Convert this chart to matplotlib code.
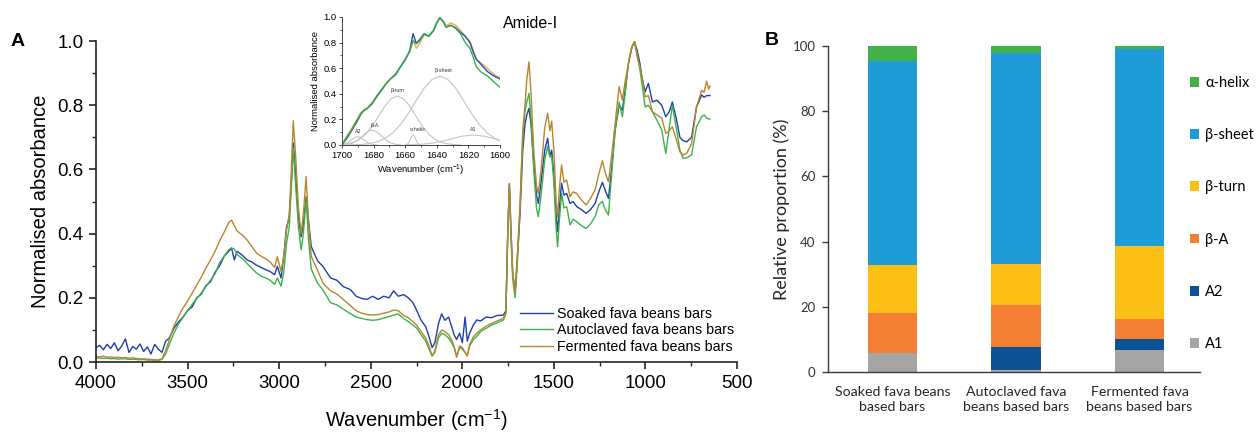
import matplotlib as mpl
import matplotlib.pyplot as plt
import numpy as np

mpl.rcParams["font.family"] = ["Liberation Sans", "DejaVu Sans"]
mpl.rcParams["mathtext.fontset"] = "custom"
mpl.rcParams["mathtext.rm"] = "Liberation Sans"
mpl.rcParams["mathtext.it"] = "Liberation Sans:italic"

# ---------------------------------------------------------------- panel A data
wavenumber = [
    4000, 3980, 3960, 3940, 3920, 3900, 3880, 3860, 3840, 3820, 3800, 3780,
    3760, 3740, 3720, 3700, 3680, 3660,
    3640, 3620, 3600, 3575, 3550, 3525, 3500, 3475, 3450, 3425, 3400, 3375,
    3350, 3325, 3300, 3275, 3260, 3245, 3230, 3200, 3175, 3150, 3125, 3100,
    3075, 3050, 3025, 3010, 2990, 2975, 2960, 2945, 2935, 2923, 2910, 2895,
    2880, 2868, 2853, 2840, 2825, 2810, 2790, 2760, 2720, 2686, 2650, 2610,
    2580, 2550, 2520, 2490, 2460, 2430, 2400, 2375, 2350, 2320, 2295, 2270,
    2250, 2225, 2200, 2185, 2165, 2150, 2130, 2113, 2095, 2075, 2058, 2045,
    2031, 2015, 2000, 1985, 1973, 1960, 1940, 1921, 1900, 1870, 1840, 1810,
    1776, 1762, 1752, 1743, 1735, 1725, 1712, 1700, 1685, 1670, 1658, 1648,
    1636, 1625, 1610, 1595, 1585, 1570, 1550, 1534, 1522, 1512, 1500, 1488,
    1480, 1470, 1458, 1445, 1430, 1412, 1395, 1375, 1350, 1324, 1300, 1275,
    1255, 1235, 1220, 1202, 1185, 1166, 1144, 1126, 1112, 1093, 1075, 1060,
    1045, 1030, 1020, 1002, 984, 962, 938, 911, 889, 870, 853, 830,
    812, 795, 775, 748, 721, 693, 680, 666, 655, 648,
]

soaked = [
    0.045, 0.052, 0.038, 0.055, 0.042, 0.060, 0.035, 0.050, 0.072, 0.030,
    0.048, 0.040, 0.056, 0.033, 0.047, 0.025, 0.055, 0.040,
    0.030, 0.065, 0.075, 0.105, 0.125, 0.140, 0.160, 0.172, 0.200, 0.212,
    0.238, 0.250, 0.280, 0.300, 0.330, 0.345, 0.355, 0.318, 0.345, 0.332,
    0.318, 0.312, 0.302, 0.295, 0.288, 0.282, 0.272, 0.298, 0.262, 0.330,
    0.420, 0.450, 0.550, 0.682, 0.580, 0.450, 0.390, 0.430, 0.515, 0.440,
    0.360, 0.340, 0.315, 0.297, 0.262, 0.255, 0.235, 0.225, 0.205, 0.198,
    0.195, 0.205, 0.195, 0.205, 0.200, 0.222, 0.205, 0.210, 0.200, 0.185,
    0.162, 0.130, 0.110, 0.085, 0.045, 0.060, 0.120, 0.150, 0.130, 0.140,
    0.110, 0.085, 0.070, 0.090, 0.060, 0.140, 0.065, 0.090, 0.115, 0.131,
    0.128, 0.140, 0.138, 0.145, 0.146, 0.160, 0.400, 0.556, 0.420, 0.280,
    0.214, 0.320, 0.460, 0.660, 0.740, 0.770, 0.790, 0.740, 0.620, 0.520,
    0.494, 0.560, 0.660, 0.697, 0.640, 0.660, 0.580, 0.460, 0.406, 0.480,
    0.557, 0.520, 0.525, 0.494, 0.500, 0.484, 0.475, 0.463, 0.475, 0.494,
    0.530, 0.560, 0.535, 0.510, 0.600, 0.720, 0.800, 0.785, 0.840, 0.930,
    0.980, 0.998, 0.970, 0.930, 0.890, 0.842, 0.868, 0.810, 0.816, 0.800,
    0.764, 0.780, 0.810, 0.754, 0.700, 0.690, 0.686, 0.700, 0.795, 0.832,
    0.825, 0.830, 0.830, 0.830,
]

autoclaved = [
    0.012, 0.013, 0.011, 0.012, 0.010, 0.011, 0.009, 0.010, 0.010, 0.008,
    0.009, 0.008, 0.007, 0.008, 0.006, 0.006, 0.005, 0.005,
    0.008, 0.025, 0.055, 0.090, 0.118, 0.140, 0.160, 0.180, 0.198, 0.215,
    0.235, 0.255, 0.275, 0.310, 0.330, 0.350, 0.355, 0.352, 0.335, 0.322,
    0.307, 0.292, 0.278, 0.268, 0.262, 0.255, 0.242, 0.262, 0.236, 0.280,
    0.370, 0.420, 0.530, 0.666, 0.550, 0.420, 0.350, 0.400, 0.510, 0.380,
    0.290, 0.270, 0.245, 0.224, 0.185, 0.178, 0.165, 0.150, 0.140, 0.136,
    0.132, 0.130, 0.132, 0.137, 0.142, 0.146, 0.150, 0.135, 0.126, 0.115,
    0.106, 0.085, 0.065, 0.045, 0.018, 0.030, 0.075, 0.090, 0.085, 0.075,
    0.060, 0.045, 0.018, 0.045, 0.040, 0.030, 0.022, 0.050, 0.070, 0.080,
    0.095, 0.105, 0.115, 0.122, 0.131, 0.150, 0.400, 0.550, 0.400, 0.260,
    0.200, 0.300, 0.480, 0.700, 0.780, 0.810, 0.837, 0.760, 0.600, 0.480,
    0.453, 0.520, 0.630, 0.671, 0.640, 0.640, 0.560, 0.420, 0.359, 0.440,
    0.525, 0.480, 0.484, 0.427, 0.445, 0.437, 0.425, 0.416, 0.430, 0.453,
    0.490, 0.500, 0.475, 0.458, 0.580, 0.720, 0.810, 0.764, 0.830, 0.930,
    0.980, 0.998, 0.960, 0.910, 0.870, 0.795, 0.800, 0.780, 0.754, 0.723,
    0.650, 0.730, 0.800, 0.723, 0.660, 0.635, 0.636, 0.645, 0.733, 0.764,
    0.770, 0.760, 0.757, 0.757,
]

fermented = [
    0.017, 0.016, 0.018, 0.015, 0.016, 0.014, 0.015, 0.013, 0.014, 0.012,
    0.013, 0.011, 0.010, 0.010, 0.009, 0.008, 0.007, 0.007,
    0.010, 0.035, 0.070, 0.112, 0.142, 0.168, 0.190, 0.215, 0.240, 0.265,
    0.293, 0.318, 0.345, 0.378, 0.405, 0.435, 0.442, 0.425, 0.408, 0.395,
    0.380, 0.360, 0.340, 0.330, 0.322, 0.312, 0.295, 0.328, 0.282, 0.330,
    0.410, 0.460, 0.580, 0.752, 0.640, 0.480, 0.400, 0.460, 0.578, 0.440,
    0.330, 0.310, 0.285, 0.245, 0.222, 0.212, 0.195, 0.175, 0.160, 0.152,
    0.148, 0.146, 0.148, 0.152, 0.156, 0.162, 0.160, 0.145, 0.138, 0.126,
    0.115, 0.095, 0.075, 0.055, 0.020, 0.035, 0.085, 0.100, 0.095, 0.085,
    0.068, 0.050, 0.015, 0.050, 0.045, 0.030, 0.018, 0.055, 0.078, 0.090,
    0.100, 0.112, 0.120, 0.128, 0.136, 0.155, 0.400, 0.556, 0.420, 0.280,
    0.214, 0.330, 0.490, 0.720, 0.800, 0.880, 0.935, 0.840, 0.660, 0.550,
    0.525, 0.600, 0.730, 0.775, 0.720, 0.750, 0.660, 0.500, 0.453, 0.540,
    0.614, 0.560, 0.567, 0.515, 0.530, 0.525, 0.505, 0.489, 0.510, 0.536,
    0.585, 0.627, 0.590, 0.562, 0.640, 0.740, 0.858, 0.816, 0.870, 0.930,
    0.980, 0.998, 0.950, 0.920, 0.890, 0.826, 0.830, 0.780, 0.770, 0.760,
    0.712, 0.720, 0.733, 0.690, 0.655, 0.645, 0.650, 0.680, 0.795, 0.847,
    0.840, 0.875, 0.850, 0.860,
]

# inset (Amide-I) data
inset_wn = [
    1700, 1697, 1694, 1691, 1688, 1686, 1684, 1681, 1678, 1675, 1672, 1669,
    1666, 1663, 1660, 1657, 1655, 1653, 1651, 1648, 1645, 1642, 1640, 1638,
    1636, 1634, 1631, 1628, 1625, 1622, 1619, 1617, 1615, 1612, 1608, 1604,
    1600,
]
inset_soaked = [
    0.0, 0.05, 0.11, 0.17, 0.24, 0.27, 0.285, 0.32, 0.38, 0.43, 0.48, 0.52,
    0.55, 0.61, 0.665, 0.74, 0.87, 0.795, 0.82, 0.87, 0.85, 0.895, 0.955,
    0.995, 0.965, 0.92, 0.935, 0.915, 0.88, 0.85, 0.80, 0.73, 0.67, 0.63,
    0.575, 0.54, 0.515,
]
inset_autoclaved = [
    0.0, 0.06, 0.115, 0.18, 0.245, 0.27, 0.285, 0.325, 0.375, 0.425, 0.48,
    0.52, 0.555, 0.61, 0.67, 0.735, 0.815, 0.79, 0.81, 0.865, 0.85, 0.895,
    0.955, 0.995, 0.965, 0.92, 0.935, 0.91, 0.87, 0.80, 0.755, 0.69, 0.61,
    0.57, 0.54, 0.495, 0.45,
]
inset_fermented = [
    0.0, 0.07, 0.125, 0.19, 0.255, 0.275, 0.29, 0.33, 0.38, 0.43, 0.48, 0.52,
    0.555, 0.61, 0.665, 0.73, 0.82, 0.755, 0.79, 0.86, 0.85, 0.895, 0.95,
    0.995, 0.97, 0.93, 0.955, 0.935, 0.895, 0.85, 0.81, 0.74, 0.67, 0.64,
    0.60, 0.555, 0.525,
]

# fitted band components
comp_a2_wn = [1700, 1698, 1696, 1694, 1692, 1690, 1688, 1686, 1684, 1682, 1680, 1678]
comp_a2 = [0.003, 0.009, 0.021, 0.039, 0.057, 0.065, 0.057, 0.039, 0.021, 0.009, 0.003, 0.001]
comp_ba_wn = [1699, 1696, 1693, 1690, 1687, 1684, 1681, 1678, 1675, 1672, 1669, 1666, 1663]
comp_ba = [0.001, 0.005, 0.016, 0.038, 0.071, 0.103, 0.117, 0.103, 0.071, 0.038, 0.016, 0.005, 0.001]
comp_bt_wn = [1700, 1697, 1693, 1689, 1685, 1681, 1677, 1673, 1669, 1665, 1661,
              1657, 1653, 1649, 1645, 1641, 1637, 1633, 1629, 1625]
comp_bt = [0.004, 0.008, 0.020, 0.043, 0.084, 0.146, 0.222, 0.301, 0.360, 0.383,
           0.360, 0.301, 0.222, 0.146, 0.084, 0.043, 0.020, 0.008, 0.003, 0.001]
comp_ah_wn = [1660, 1659, 1658, 1657, 1656, 1655, 1654, 1653, 1652, 1651, 1650]
comp_ah = [0.001, 0.003, 0.013, 0.036, 0.064, 0.078, 0.064, 0.036, 0.013, 0.003, 0.001]
comp_bs_wn = [1698, 1693, 1688, 1683, 1678, 1673, 1668, 1663, 1658, 1653, 1648,
              1643, 1638, 1633, 1628, 1623, 1618, 1613, 1608, 1603, 1600]
comp_bs = [0.0, 0.002, 0.004, 0.010, 0.024, 0.049, 0.093, 0.159, 0.246, 0.347,
           0.443, 0.512, 0.538, 0.512, 0.443, 0.347, 0.246, 0.159, 0.093, 0.049, 0.032]
comp_a1_wn = [1659, 1652, 1645, 1638, 1631, 1624, 1617, 1610, 1603, 1600]
comp_a1 = [0.001, 0.003, 0.011, 0.025, 0.047, 0.069, 0.078, 0.069, 0.047, 0.037]

# ---------------------------------------------------------------- panel B data
samples = ["Soaked fava beans\nbased bars", "Autoclaved fava\nbeans based bars",
           "Fermented fava\nbeans based bars"]
structures = ["A1", "A2", "β-A", "β-turn", "β-sheet", "α-helix"]
proportions = {
    "A1":      [5.8, 0.7, 6.8],
    "A2":      [0.0, 7.0, 3.3],
    "β-A":     [12.3, 12.7, 6.2],
    "β-turn":  [14.6, 12.7, 22.5],
    "β-sheet": [62.8, 64.9, 60.3],
    "α-helix": [4.5, 2.0, 0.9],
}
structure_colors = {
    "A1": "#a5a5a5", "A2": "#0b5394", "β-A": "#f27f33",
    "β-turn": "#fcbf16", "β-sheet": "#1f9bd7", "α-helix": "#43b049",
}

BLUE, GREEN, BROWN = "#1e3fa6", "#3cb34a", "#b8862e"
AXCOL = "#2e2222"

fig = plt.figure(figsize=(12.59, 4.32), dpi=100)

# ---------------------------------------------------------------- panel A
ax = fig.add_axes([0.0763, 0.162, 0.5091, 0.743])
ax.plot(wavenumber, soaked, color=BLUE, lw=1.0, label="Soaked fava beans bars")
ax.plot(wavenumber, autoclaved, color=GREEN, lw=1.0, label="Autoclaved fava beans bars")
ax.plot(wavenumber, fermented, color=BROWN, lw=1.0, label="Fermented fava beans bars")
ax.set_xlim(4000, 500)
ax.set_ylim(0, 1.0)
ax.set_xticks([4000, 3500, 3000, 2500, 2000, 1500, 1000, 500])
ax.set_xticks(np.arange(3750, 500, -500), minor=True)
ax.set_yticks([0.0, 0.2, 0.4, 0.6, 0.8, 1.0])
ax.set_yticks([0.1, 0.3, 0.5, 0.7, 0.9], minor=True)
ax.yaxis.set_major_formatter(mpl.ticker.FormatStrFormatter("%.1f"))
for side in ("top", "right"):
    ax.spines[side].set_visible(False)
for side in ("left", "bottom"):
    ax.spines[side].set_color(AXCOL)
    ax.spines[side].set_linewidth(1.2)
ax.tick_params(which="major", length=5, width=1.2, color=AXCOL, labelsize=13.5, pad=4)
ax.tick_params(which="minor", length=3, width=1.0, color=AXCOL)
ax.set_xlabel("Wavenumber (cm$^{-1}$)", fontsize=14.5, labelpad=11)
ax.set_ylabel("Normalised absorbance", fontsize=14.5, labelpad=5)
ax.legend(loc="lower left", bbox_to_anchor=(0.413, 0.18), bbox_transform=fig.transFigure,
          frameon=False, fontsize=10.3, handlelength=2.3, handletextpad=0.3,
          labelspacing=0.2, borderpad=0, borderaxespad=0)

# inset
ins = fig.add_axes([0.2716, 0.6644, 0.1255, 0.2963])
ins.patch.set_alpha(0)
for w, y in [(comp_a2_wn, comp_a2), (comp_ba_wn, comp_ba), (comp_bt_wn, comp_bt),
             (comp_ah_wn, comp_ah), (comp_bs_wn, comp_bs), (comp_a1_wn, comp_a1)]:
    ins.plot(w, y, color="#c4c4c4", lw=0.8)
ins.plot(inset_wn, inset_fermented, color="#f6a65e", lw=1.0)
ins.plot(inset_wn, inset_soaked, color="#2a4bb8", lw=1.0)
ins.plot(inset_wn, inset_autoclaved, color="#2fb545", lw=1.0)
for txt, xw, yv in [("A2", 1690, 0.085), ("β-A", 1679, 0.135), ("β-turn", 1665, 0.405),
                    ("α-helix", 1652, 0.10), ("β-sheet", 1636, 0.565), ("A1", 1617, 0.10)]:
    ins.text(xw, yv, txt, fontsize=3.8, ha="center", va="bottom", color="#333333")
ins.set_xlim(1700, 1600)
ins.set_ylim(0, 1.0)
ins.set_xticks(np.arange(1700, 1599, -20))
ins.set_xticks(np.arange(1690, 1600, -20), minor=True)
ins.set_yticks([0.0, 0.2, 0.4, 0.6, 0.8, 1.0])
ins.set_yticks([0.1, 0.3, 0.5, 0.7, 0.9], minor=True)
ins.yaxis.set_major_formatter(mpl.ticker.FormatStrFormatter("%.1f"))
for side in ("top", "right"):
    ins.spines[side].set_visible(False)
for side in ("left", "bottom"):
    ins.spines[side].set_color("#444444")
    ins.spines[side].set_linewidth(0.7)
ins.tick_params(which="major", length=2.5, width=0.7, color="#444444", labelsize=6.8, pad=1.5)
ins.tick_params(which="minor", length=1.5, width=0.6, color="#444444")
ins.set_xlabel("Wavenumber (cm$^{-1}$)", fontsize=6.8, labelpad=2)
ins.set_ylabel("Normalised absorbance", fontsize=6.8, labelpad=2)
fig.text(503 / 1259, 1 - 24 / 432, "Amide-I", fontsize=11.5, va="center", ha="left")

fig.text(0.008, 0.905, "A", fontsize=14, fontweight="bold", va="center")

# ---------------------------------------------------------------- panel B
bfont = ["Lato", "Noto Sans", "DejaVu Sans"]
bx = fig.add_axes([0.6577, 0.1389, 0.2955, 0.7546])
pos = np.arange(len(samples))
bottom = np.zeros(len(samples))
handles = {}
for s in structures:
    vals = np.array(proportions[s])
    handles[s] = bx.bar(pos, vals, 0.4, bottom=bottom, color=structure_colors[s],
                        edgecolor="none", label=s)
    bottom += vals
bx.set_xlim(-0.52, 2.49)
bx.set_ylim(0, 100)
bx.set_yticks(range(0, 101, 20))
bx.set_xticks(pos)
bx.set_xticklabels(samples, fontsize=10.2, family=bfont, color="#262626", linespacing=1.35)
for lab in bx.get_yticklabels():
    lab.set_family(bfont)
for side in ("top", "right"):
    bx.spines[side].set_visible(False)
for side in ("left", "bottom"):
    bx.spines[side].set_color("#3a3a3a")
    bx.spines[side].set_linewidth(1.0)
bx.tick_params(axis="y", length=4, width=1.0, color="#3a3a3a", labelsize=9.5,
               labelcolor="#333333", pad=5)
bx.tick_params(axis="x", length=0, pad=10)
bx.set_ylabel("Relative proportion (%)", fontsize=13, family=bfont, color="#262626", labelpad=2)
bx.legend([handles[s] for s in structures[::-1]], structures[::-1],
          loc="upper left", bbox_to_anchor=(1190 / 1259, 1 - 76 / 432),
          bbox_transform=fig.transFigure, frameon=False,
          prop={"family": bfont, "size": 10.5}, handlelength=0.65, handleheight=0.65,
          handletextpad=0.4, labelspacing=2.62, borderpad=0, borderaxespad=0)

fig.text(765 / 1259, 0.907, "B", fontsize=14, fontweight="bold", va="center")

fig.savefig("out.png", dpi=100)
